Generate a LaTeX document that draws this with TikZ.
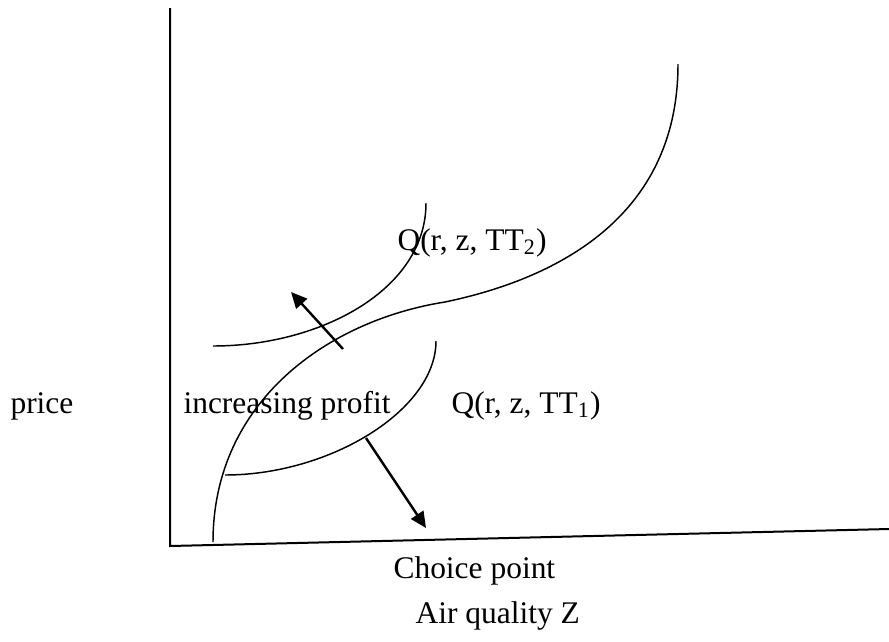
\documentclass[tikz,border=0pt]{standalone}
\usepackage{fontspec}
\setmainfont{Liberation Serif}
\usetikzlibrary{arrows.meta}

\begin{document}
\begin{tikzpicture}[
    x=0.375pt, y=-0.375pt,
    axis/.style={line width=0.75pt},
    curve/.style={line width=0.55pt},
    movearrow/.style={line width=0.9pt, -{Triangle[length=6pt,width=5.5pt]}},
    txt/.style={inner sep=0pt, anchor=base west, font=\fontsize{11.8}{14}\selectfont}
]
    \useasboundingbox (0,0) rectangle (889,641);

    % axes
    \coordinate (top) at (170,8);
    \coordinate (origin) at (170,546);
    \coordinate (xend) at (889,529);
    \draw[axis] (top) -- (origin) -- (xend);

    % choice curve
    \coordinate (c0) at (213,542);
    \coordinate (c1) at (445,302);
    \coordinate (c2) at (678,64);
    \draw[curve] (c0) .. controls (213,400) and (330,320) .. (c1)
        .. controls (560,278) and (678,215) .. (c2);

    % profit curves
    \coordinate (q2a) at (213,346);
    \coordinate (q2b) at (426,203);
    \draw[curve] (q2a) .. controls (320,346) and (426,290) .. (q2b);
    \coordinate (q1a) at (225,475);
    \coordinate (q1b) at (436,341);
    \draw[curve] (q1a) .. controls (330,475) and (436,410) .. (q1b);

    % shifts
    \coordinate (s1a) at (366,438);
    \coordinate (s1b) at (426,528);
    \draw[movearrow] (s1a) -- (s1b);
    \coordinate (s2a) at (343,349);
    \coordinate (s2b) at (291,292);
    \draw[movearrow] (s2a) -- (s2b);

    % labels
    \node[txt] (price) at (10,413) {price};
    \node[txt] (incr) at (183,413) {increasing profit};
    \node[txt] (qone) at (451,413) {Q(r, z, TT\textsubscript{1})};
    \node[txt] (qtwo) at (397,250) {Q(r, z, TT\textsubscript{2})};
    \node[txt] (choice) at (393,578) {Choice point};
    \node[txt] (airq) at (415,623) {Air quality Z};
\end{tikzpicture}
\end{document}
